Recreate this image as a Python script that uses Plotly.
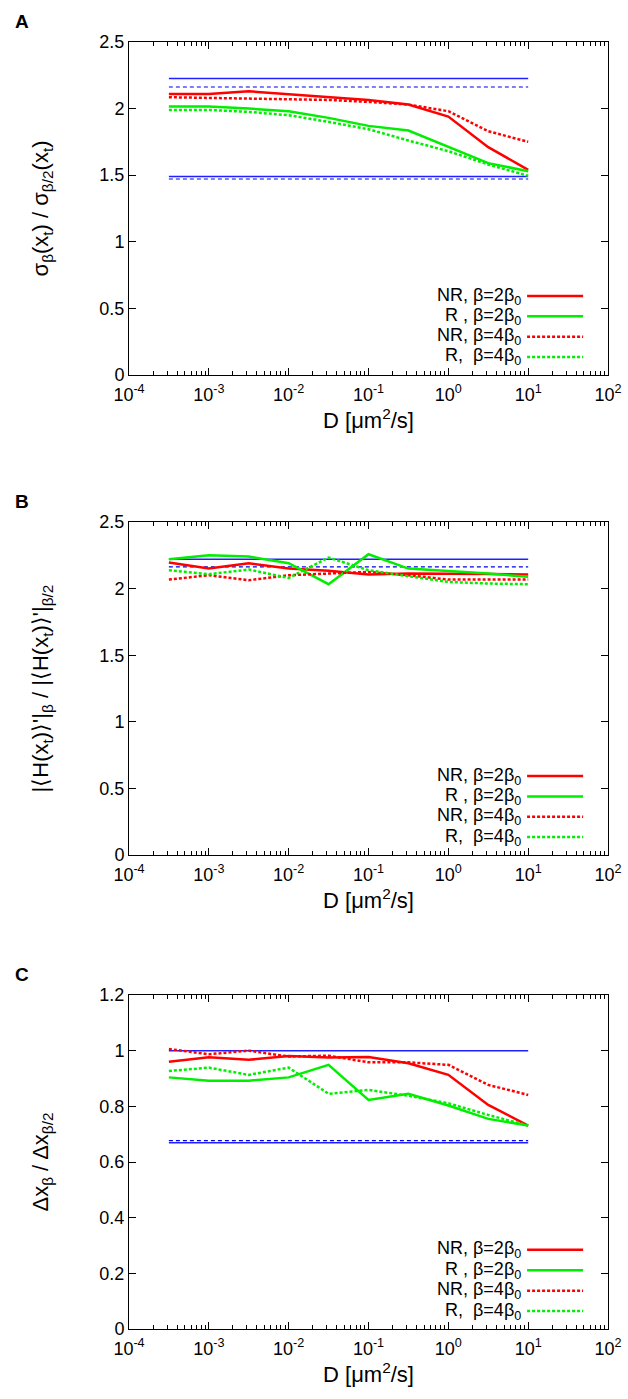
import plotly.graph_objects as go

# diffusion constants (x positions of the points)
D = [0.000316, 0.001, 0.00316, 0.01, 0.0316, 0.1, 0.316, 1, 3.16, 10]
D_span = [0.000316, 10]

# panel A: sigma ratio
a_nr2 = [2.11, 2.11, 2.13, 2.11, 2.09, 2.065, 2.03, 1.94, 1.71, 1.54]
a_r2 = [2.015, 2.015, 2.0, 1.98, 1.93, 1.87, 1.835, 1.71, 1.59, 1.53]
a_nr4 = [2.085, 2.08, 2.07, 2.065, 2.065, 2.05, 2.03, 1.98, 1.83, 1.75]
a_r4 = [1.99, 1.99, 1.975, 1.95, 1.9, 1.845, 1.76, 1.68, 1.58, 1.495]
a_ref_solid = [2.225, 1.489]
a_ref_dash = [2.162, 1.471]

# panel B: |<H(x_t)>'| ratio
b_nr2 = [2.195, 2.15, 2.19, 2.15, 2.133, 2.105, 2.113, 2.113, 2.11, 2.105]
b_r2 = [2.22, 2.25, 2.24, 2.19, 2.033, 2.258, 2.15, 2.133, 2.113, 2.088]
b_nr4 = [2.068, 2.1, 2.063, 2.1, 2.113, 2.125, 2.1, 2.068, 2.068, 2.068]
b_r4 = [2.138, 2.108, 2.143, 2.08, 2.233, 2.138, 2.093, 2.05, 2.038, 2.033]
b_ref_solid = [2.22]
b_ref_dash = [2.163]

# panel C: delta x ratio
c_nr2 = [0.96, 0.976, 0.967, 0.981, 0.975, 0.977, 0.955, 0.913, 0.805, 0.731]
c_r2 = [0.904, 0.892, 0.892, 0.904, 0.949, 0.823, 0.845, 0.803, 0.755, 0.731]
c_nr4 = [1.006, 0.987, 1.0, 0.979, 0.982, 0.958, 0.958, 0.949, 0.877, 0.841]
c_r4 = [0.927, 0.939, 0.913, 0.939, 0.845, 0.859, 0.838, 0.811, 0.769, 0.731]
c_ref_solid = [1.0, 0.669]
c_ref_dash = [0.677]

labels = ['NR, β=2β<sub>0</sub>', 'R , β=2β<sub>0</sub>',
          'NR, β=4β<sub>0</sub>', 'R,  β=4β<sub>0</sub>']
styles = [dict(color='#ff0000', width=2.5),
          dict(color='#00ee00', width=2.5),
          dict(color='#ff0000', width=2.5, dash='3px,2px'),
          dict(color='#00ee00', width=2.5, dash='3px,2px')]

x_ticks = [1e-4, 1e-3, 1e-2, 1e-1, 1, 10, 100]
x_ticktext = ['10<sup>-4</sup>', '10<sup>-3</sup>', '10<sup>-2</sup>', '10<sup>-1</sup>',
              '10<sup>0</sup>', '10<sup>1</sup>', '10<sup>2</sup>']

panels = [
    dict(letter='A', series=[a_nr2, a_r2, a_nr4, a_r4], solid=a_ref_solid, dash=a_ref_dash,
         ytitle='σ<sub>β</sub>(x<sub>t</sub>) / σ<sub>β/2</sub>(x<sub>t</sub>)',
         yrange=[0, 2.5], dtick=0.5, dom=[0.7320, 0.9700]),
    dict(letter='B', series=[b_nr2, b_r2, b_nr4, b_r4], solid=b_ref_solid, dash=b_ref_dash,
         ytitle="|⟨H(x<sub>t</sub>)⟩'|<sub>β</sub> / |⟨H(x<sub>t</sub>)⟩'|<sub>β/2</sub>",
         yrange=[0, 2.5], dtick=0.5, dom=[0.3888, 0.6269]),
    dict(letter='C', series=[c_nr2, c_r2, c_nr4, c_r4], solid=c_ref_solid, dash=c_ref_dash,
         ytitle='Δx<sub>β</sub> / Δx<sub>β/2</sub>',
         yrange=[0, 1.2], dtick=0.2, dom=[0.0500, 0.2888]),
]

font = 'Liberation Sans, Arial, sans-serif'
fig = go.Figure()
layout = dict(width=628, height=1399, margin=dict(l=0, r=0, t=0, b=0),
              plot_bgcolor='white', paper_bgcolor='white', showlegend=False,
              font=dict(family=font, size=18, color='black'))
annotations = []
shapes = []

for i, p in enumerate(panels):
    n = '' if i == 0 else str(i + 1)
    xa, ya = 'x' + n, 'y' + n

    for v in p['solid']:
        fig.add_trace(go.Scatter(x=D_span, y=[v, v], mode='lines', xaxis=xa, yaxis=ya,
                                 line=dict(color='#2020ff', width=1.5), hoverinfo='skip'))
    for v in p['dash']:
        fig.add_trace(go.Scatter(x=D_span, y=[v, v], mode='lines', xaxis=xa, yaxis=ya,
                                 line=dict(color='#0000ee', width=1.2, dash='4px,3px'),
                                 hoverinfo='skip'))
    for ys, lab, st in zip(p['series'], labels, styles):
        fig.add_trace(go.Scatter(x=D, y=ys, mode='lines', name=lab, xaxis=xa, yaxis=ya, line=st))

    layout['xaxis' + n] = dict(
        type='log', range=[-4, 2], domain=[0.2054, 0.9682], anchor=ya, automargin=False,
        tickmode='array', tickvals=x_ticks, ticktext=x_ticktext, ticklabelstandoff=3,
        ticks='inside', ticklen=7, tickcolor='black', showline=True, linecolor='black',
        linewidth=1, mirror='ticks', showgrid=False, zeroline=False,
        minor=dict(ticks='inside', ticklen=4, tickcolor='black', dtick='D1', showgrid=False),
        title=dict(text='D [μm<sup>2</sup>/s]', standoff=2), tickfont=dict(size=18))
    layout['yaxis' + n] = dict(
        range=p['yrange'], dtick=p['dtick'], domain=p['dom'], anchor=xa, automargin=False,
        ticks='inside', ticklen=7, tickcolor='black', showline=True, linecolor='black',
        linewidth=1, mirror='ticks', showgrid=False, zeroline=False,
        title=dict(text=p['ytitle'], standoff=44), tickfont=dict(size=18))

    # panel letter
    annotations.append(dict(text='<b>' + p['letter'] + '</b>', xref='paper', yref='paper',
                            x=0.021, y=p['dom'][1] + 0.006, xanchor='left', yanchor='bottom',
                            showarrow=False, font=dict(size=19)))

    # key in the lower right, sample lines to the right of the text
    for k, (lab, st) in enumerate(zip(labels, styles)):
        yk = 0.237 - 0.061 * k
        annotations.append(dict(text=lab, xref=xa + ' domain', yref=ya + ' domain',
                                x=0.823, y=yk, xanchor='right', yanchor='middle',
                                showarrow=False, font=dict(size=18)))
        shapes.append(dict(type='line', xref=xa + ' domain', yref=ya + ' domain',
                           x0=0.831, x1=0.948, y0=yk, y1=yk, line=st))

layout['annotations'] = annotations
layout['shapes'] = shapes
fig.update_layout(**layout)

# drop the page's default body margin so the figure sits at the window's corner
fig.write_html('out.html', config={'displayModeBar': False},
               post_script="document.body.style.margin='0';")
